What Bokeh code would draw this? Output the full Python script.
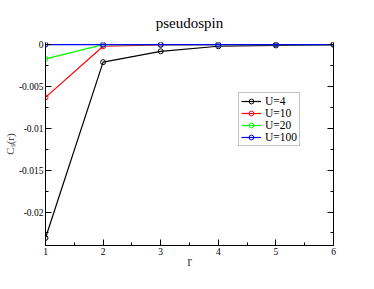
from bokeh.plotting import figure
from bokeh.models import (FixedTicker, LinearAxis, Legend, LegendItem, Range1d)
from bokeh.embed import file_html
from bokeh.resources import INLINE

r = [1, 2, 3, 4, 5, 6]
u4 = [-0.0231, -0.0021, -0.0008, -0.0002, -0.0001, 0.0]
u10 = [-0.0063, -0.0002, -0.00005, 0.0, 0.0, 0.0]
u20 = [-0.0017, 0.0, 0.0, 0.0, 0.0, 0.0]
u100 = [0.0, 0.0, 0.0, 0.0, 0.0, 0.0]
series_names = ["U=4", "U=10", "U=20", "U=100"]
colors = ["#000000", "#ff0000", "#00ff00", "#0000ff"]
x_ticks = [1, 2, 3, 4, 5, 6]
x_minor = [1.5, 2.5, 3.5, 4.5, 5.5]
y_ticks = [0.0, -0.005, -0.01, -0.015, -0.02]
y_tick_labels = ["0", "-0.005", "-0.01", "-0.015", "-0.02"]
y_minor = [-0.0025, -0.0075, -0.0125, -0.0175, -0.0225]

SERIF = "Liberation Serif"

p = figure(width=358, height=273, output_backend="svg", toolbar_location=None,
           x_range=Range1d(1, 6), y_range=Range1d(-0.024, 0.00025),
           min_border_left=43, min_border_right=25, min_border_top=41, min_border_bottom=28)
p.background_fill_color = "white"
p.border_fill_color = "white"
p.grid.visible = False
p.outline_line_color = None

p.title.text = "pseudospin"
p.title.align = "center"
p.title.text_font = SERIF
p.title.text_font_size = "15px"
p.title.text_font_style = "normal"
p.title.text_color = "black"
p.title.standoff = 24

def style_axis(ax):
    ax.axis_line_color = "black"
    ax.axis_line_width = 1
    ax.major_tick_in = 6
    ax.major_tick_out = 0
    ax.minor_tick_in = 3
    ax.minor_tick_out = 0
    ax.major_tick_line_color = "black"
    ax.minor_tick_line_color = "black"
    ax.major_label_text_font = SERIF
    ax.major_label_text_font_size = "9.5px"
    ax.major_label_text_color = "black"
    ax.major_label_standoff = 2

xa = p.xaxis[0]
xa.ticker = FixedTicker(ticks=x_ticks, minor_ticks=x_minor)
style_axis(xa)
xa.axis_label = "r"
xa.axis_label_text_font = SERIF
xa.axis_label_text_font_size = "14px"
xa.axis_label_text_font_style = "normal"
xa.axis_label_standoff = -4

ya = p.yaxis[0]
ya.ticker = FixedTicker(ticks=y_ticks, minor_ticks=y_minor)
style_axis(ya)
ya.major_label_overrides = {t: l for t, l in zip(y_ticks, y_tick_labels)}
ya.axis_label = "Cₛ(r)"
ya.axis_label_text_font = SERIF
ya.axis_label_text_font_size = "11px"
ya.axis_label_text_font_style = "normal"
ya.axis_label_standoff = 0

ra = LinearAxis(ticker=FixedTicker(ticks=y_ticks, minor_ticks=y_minor))
style_axis(ra)
ra.major_label_overrides = {t: "" for t in y_ticks}
ra.major_label_standoff = 0
p.add_layout(ra, "right")

items = []
for name, ys, c in zip(series_names, [u4, u10, u20, u100], colors):
    ln = p.line(r, ys, line_color=c, line_width=1.2)
    sc = p.scatter(r, ys, marker="circle", size=5, line_color=c, line_width=1,
                   fill_alpha=0)
    items.append(LegendItem(label=name, renderers=[ln, sc]))

legend = Legend(items=items, location=(193, 99))
legend.label_text_font = SERIF
legend.label_text_font_size = "11.5px"
legend.label_text_color = "black"
legend.label_height = 12
legend.glyph_height = 12
legend.glyph_width = 20
legend.label_standoff = 4
legend.spacing = 0
legend.padding = 2
legend.margin = 0
legend.border_line_color = "#888888"
legend.border_line_width = 1
legend.background_fill_color = "white"
legend.background_fill_alpha = 1
p.add_layout(legend, "center")

open("out.html", "w").write(file_html(p, INLINE))
